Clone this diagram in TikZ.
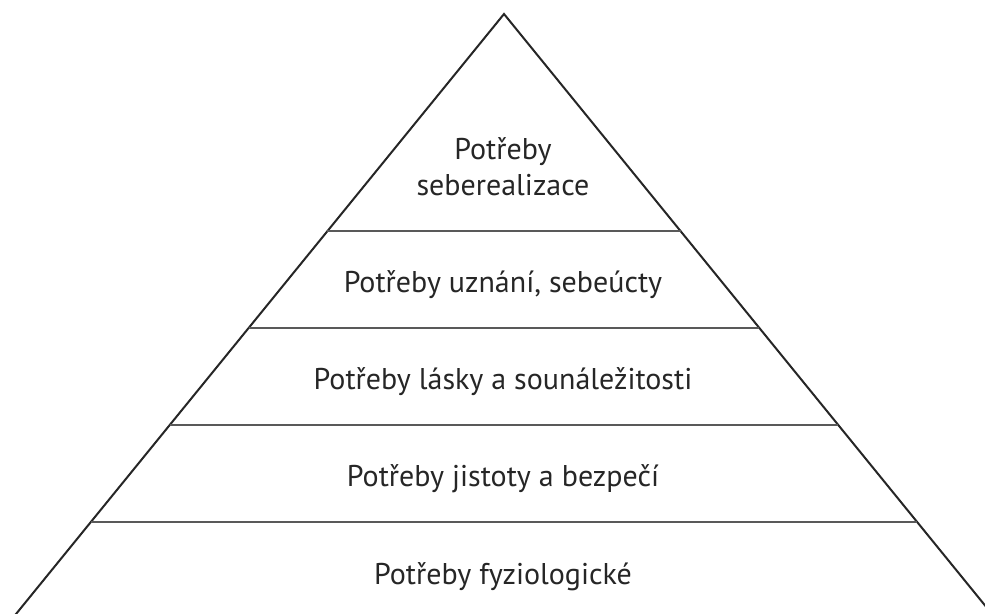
\documentclass[tikz,border=0pt]{standalone}
\usepackage{fontspec}
\setmainfont{PT Sans}
\begin{document}
\begin{tikzpicture}[x=1pt,y=-1pt,
  edge/.style={draw=black!85,line width=2pt},
  tier/.style={draw=black!65,line width=2.4pt},
  lbl/.style={font=\fontsize{30}{36}\selectfont,align=center,text=black!85}]
\useasboundingbox (0,0) rectangle (985,613);
\begin{scope}
\clip (0,0) rectangle (985,613);
\coordinate (apex) at (504,14);
\coordinate (bl) at (-10,646);
\coordinate (br) at (1018,646);
\draw[edge,line join=miter] (bl) -- (apex) -- (br);
\foreach \yy in {231,328,425,522}{
  \pgfmathsetmacro{\dx}{0.8135*(\yy-14)}
  \draw[tier] ({504-\dx},\yy) -- ({504+\dx},\yy);
}
\end{scope}
\node[lbl] (t1) at (503,167) {Potřeby\\seberealizace};
\node[lbl] (t2) at (503,285) {Potřeby uznání, sebeúcty};
\node[lbl] (t3) at (503,382) {Potřeby lásky a sounáležitosti};
\node[lbl] (t4) at (503,479) {Potřeby jistoty a bezpečí};
\node[lbl] (t5) at (503,577) {Potřeby fyziologické};
\end{tikzpicture}
\end{document}
